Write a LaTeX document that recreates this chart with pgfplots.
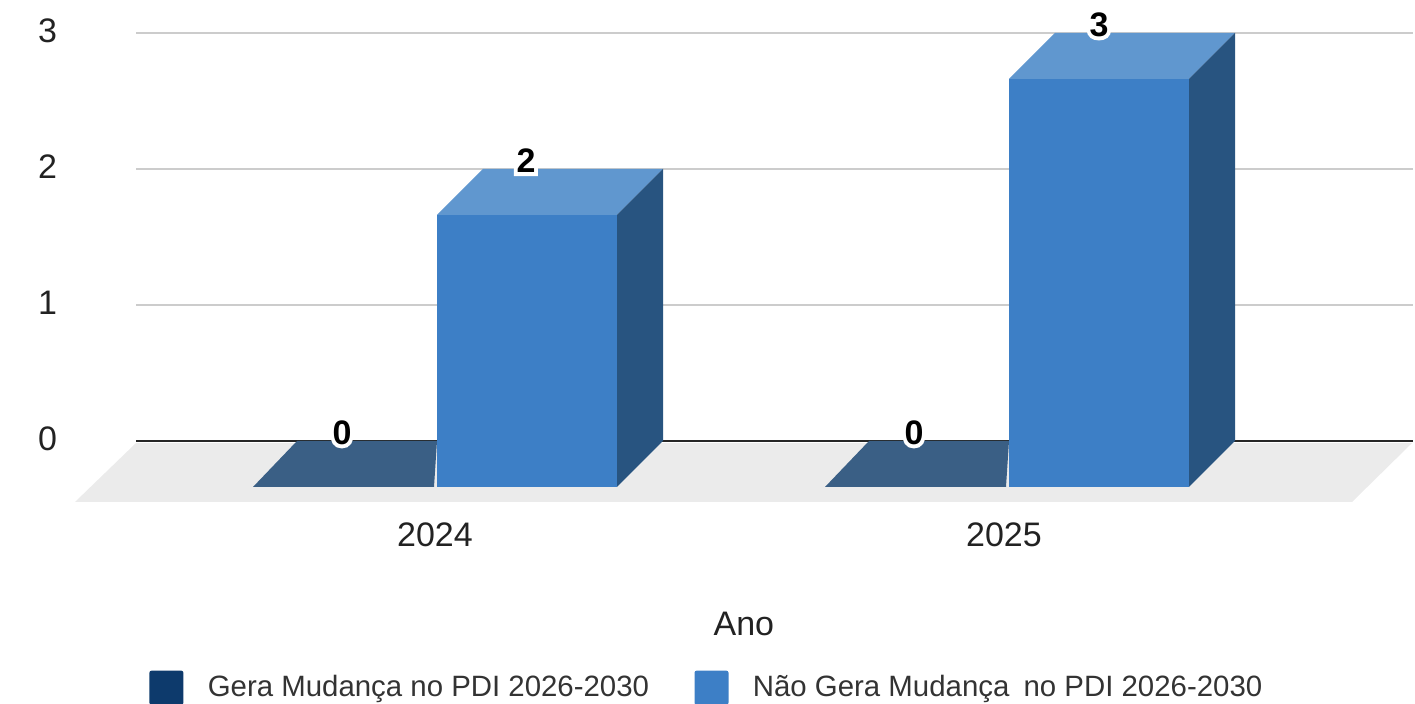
\documentclass[border=0pt]{standalone}
\usepackage{pgfplots}
\usepackage{fontspec}
\pgfplotsset{compat=1.18}
\setmainfont{Liberation Sans}
\newfontfamily\halofont[FakeBold=22]{Liberation Sans Bold}
\newfontfamily\labelfont{Liberation Sans Bold}

\definecolor{legdark}{HTML}{0D3A6C}
\definecolor{flatdark}{HTML}{3A5F85}
\definecolor{barfront}{HTML}{3D7FC6}
\definecolor{bartop}{HTML}{6097CF}
\definecolor{barside}{HTML}{285480}
\definecolor{floorgray}{HTML}{EBEBEB}
\definecolor{gridgray}{HTML}{CCCCCC}
\definecolor{txt}{HTML}{222222}
\definecolor{legtxt}{HTML}{333333}

% x runs in image pixels, y in chart units; the fake depth is 46 px = 0.338 units
\pgfplotsset{face/.style={draw=none,fill=#1,forget plot}}

\begin{document}
\begin{tikzpicture}
\path[use as bounding box] (0,0) rectangle (707.5pt,352pt);
\begin{axis}[
    at={(68pt,101pt)}, anchor=south west,
    scale only axis, width=638.5pt, height=234.5pt,
    xmin=136, xmax=1413, ymin=-0.4485, ymax=3,
    clip=false,
    axis line style={draw=none},
    major tick length=0pt,
    ymajorgrids, grid style={gridgray,line width=1.3pt},
    ytick={0,1,2,3},
    xtick={435,1004}, xticklabels={2024,2025},
    /pgf/number format/assume math mode=true,
    tick label style={font=\fontsize{17}{20}\selectfont,text=txt},
    yticklabel style={xshift=-36pt,yshift=1.1pt},
    xticklabel style={yshift=-7pt},
    xlabel={Ano},
    xlabel style={at={(axis description cs:0.476,-0.260)},anchor=center,
        font=\fontsize{17}{20}\selectfont,text=txt},
    legend columns=2,
    legend cell align=left,
    legend style={at={(0.0102,-0.396)},anchor=west,draw=none,fill=none,inner sep=0pt,
        font=\fontsize{14.7}{17}\selectfont,text=legtxt,
        /tikz/every even column/.style={column sep=22.7pt},
        nodes={inner sep=0pt}},
    legend image code/.code={%
        \fill[#1,draw=none,rounded corners=1pt] (0pt,-8.5pt) rectangle (17pt,8.5pt);
        \fill[white,opacity=0] (17pt,-1pt) rectangle (29pt,1pt);},
]
% floor
\addplot[face=floorgray] coordinates {(136,-0.015) (1412,-0.015) (1352,-0.4485) (75,-0.4485)} -- cycle;
% zero line
\addplot[black!85,line width=1.2pt,forget plot] coordinates {(136,0) (1413,0)};

% Gera Mudanca: both values are 0, only the flat top shows
\addplot[face=flatdark] coordinates {(253,-0.338) (434,-0.338) (437,0) (297,0)} -- cycle;
\addplot[face=flatdark] coordinates {(825,-0.338) (1006,-0.338) (1009,0) (869,0)} -- cycle;

% Nao Gera Mudanca 2024, value 2
\addplot[face=barfront] coordinates {(437,-0.338) (617,-0.338) (617,1.662) (437,1.662)} -- cycle;
\addplot[face=bartop] coordinates {(437,1.662) (617,1.662) (663,2) (483,2)} -- cycle;
\addplot[face=barside] coordinates {(617,-0.338) (663,0) (663,2) (617,1.662)} -- cycle;
% Nao Gera Mudanca 2025, value 3
\addplot[face=barfront] coordinates {(1009,-0.338) (1189,-0.338) (1189,2.662) (1009,2.662)} -- cycle;
\addplot[face=bartop] coordinates {(1009,2.662) (1189,2.662) (1235,3) (1055,3)} -- cycle;
\addplot[face=barside] coordinates {(1189,-0.338) (1235,0) (1235,3) (1189,2.662)} -- cycle;

% value labels
\addplot[only marks,mark=none,forget plot,point meta=y,
    nodes near coords={\rlap{\color{white}\halofont\pgfmathprintnumber{\pgfplotspointmeta}}\labelfont\pgfmathprintnumber{\pgfplotspointmeta}},
    every node near coord/.style={anchor=center,yshift=4.2pt,inner sep=0pt,
        font=\fontsize{17}{20}\selectfont,text=black}]
    coordinates {(342,0) (526,2) (914,0) (1099,3)};

\addlegendimage{fill=legdark}
\addlegendentry{Gera Mudança no PDI 2026-2030}
\addlegendimage{fill=barfront}
\addlegendentry{Não Gera Mudança\hspace{3pt} no PDI 2026-2030}
\end{axis}
\end{tikzpicture}
\end{document}
